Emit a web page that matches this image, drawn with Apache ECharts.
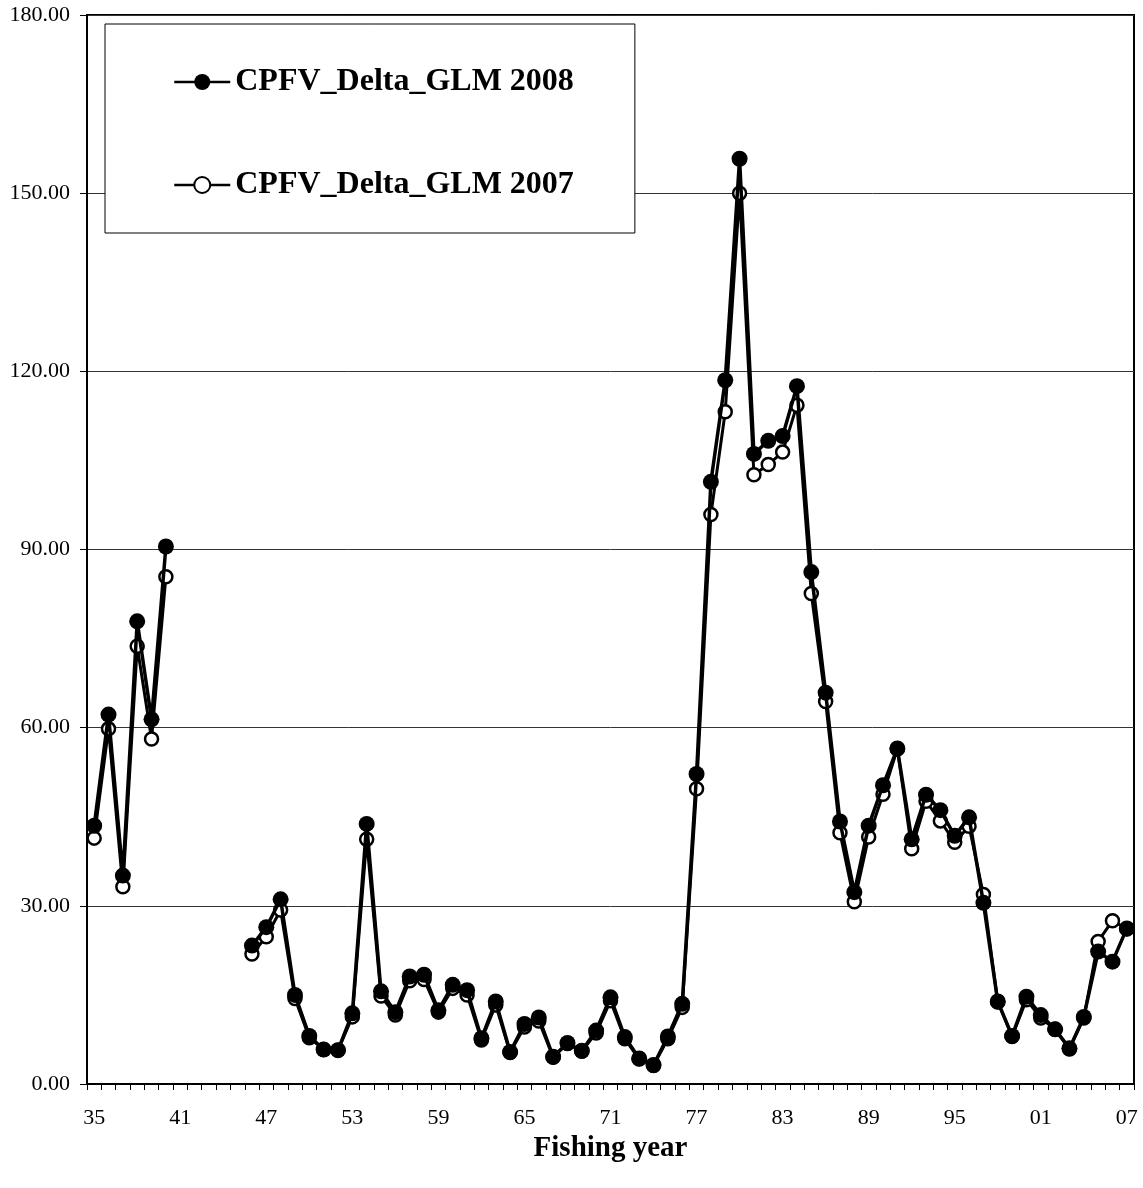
<!DOCTYPE html>
<html>
<head>
<meta charset="utf-8">
<script src="https://cdn.jsdelivr.net/npm/echarts@6/dist/echarts.min.js"></script>
<style>
  html, body { margin: 0; padding: 0; background: #fff; }
  #chart { width: 1143px; height: 1188px; }
</style>
</head>
<body>
<div id="chart"></div>
<script>
// Fishing years 1935..2007
const years = [];
for (let y = 1935; y <= 2007; y++) years.push(y);

const seriesNames = ['CPFV_Delta_GLM 2008', 'CPFV_Delta_GLM 2007'];

// CPFV_Delta_GLM 2008 (filled markers)
const glm2008 = [
  43.5, 62.2, 35.1, 77.9, 61.4, 90.5,            // 1935-1940
  null, null, null, null, null,                  // 1941-1945
  23.3, 26.4, 31.1, 15.0, 8.1, 5.8, 5.7, 11.9, 43.8, // 1946-1954
  15.6, 12.1, 18.1, 18.4, 12.4, 16.7, 15.8, 7.7, 13.9, 5.4, // 1955-1964
  10.1, 11.2, 4.6, 6.9, 5.6, 9.0, 14.6, 7.9, 4.3, 3.2,      // 1965-1974
  8.0, 13.5, 52.2, 101.4, 118.5, 155.8, 106.1, 108.3, 109.1, 117.5, // 1975-1984
  86.2, 65.9, 44.2, 32.3, 43.5, 50.3, 56.5, 41.2, 48.7, 46.1, // 1985-1994
  41.8, 44.9, 30.5, 13.9, 8.1, 14.7, 11.6, 9.2, 6.0, 11.3,    // 1995-2004
  22.3, 20.6, 26.2                                           // 2005-2007
];

// CPFV_Delta_GLM 2007 (open markers)
const glm2007 = [
  41.4, 59.8, 33.2, 73.7, 58.1, 85.4,
  null, null, null, null, null,
  21.9, 24.8, 29.3, 14.4, 7.8, 5.8, 5.7, 11.3, 41.2,
  14.8, 11.6, 17.4, 17.6, 12.1, 16.1, 15.0, 7.4, 13.3, 5.3,
  9.6, 10.6, 4.5, 6.8, 5.5, 8.6, 14.0, 7.6, 4.2, 3.1,
  7.6, 12.9, 49.7, 95.9, 113.2, 150.0, 102.6, 104.3, 106.4, 114.3,
  82.6, 64.4, 42.3, 30.7, 41.6, 48.8, 56.4, 39.6, 47.6, 44.3,
  40.7, 43.4, 31.9, 13.8, 8.0, 14.2, 11.1, 9.2, 5.9, 11.1,
  24.0, 27.5, 26.1
];

const yTicks = [0, 30, 60, 90, 120, 150, 180];

const chart = echarts.init(document.getElementById('chart'), null, { renderer: 'canvas' });
const serif = '"Liberation Serif", "Times New Roman", serif';

chart.setOption({
  animation: false,
  backgroundColor: '#fff',
  grid: {
    left: 87, right: 9, top: 15, bottom: 104,
    show: true, borderColor: '#000', borderWidth: 2, backgroundColor: 'transparent'
  },
  legend: {
    orient: 'vertical',
    left: 105, top: 24,
    padding: [39, 61, 29, 68],
    itemGap: 65,
    itemWidth: 56, itemHeight: 20,
    backgroundColor: '#fff',
    borderColor: '#000', borderWidth: 1,
    data: seriesNames,
    lineStyle: { width: 2.5 },
    textStyle: { fontFamily: serif, fontWeight: 'bold', fontSize: 32, color: '#000', lineHeight: 38 }
  },
  xAxis: {
    type: 'category',
    data: years.map(String),
    boundaryGap: true,
    axisLine: { lineStyle: { color: '#000', width: 2 } },
    axisTick: { show: true, interval: 0, length: 6, lineStyle: { color: '#000', width: 1 } },
    axisLabel: {
      interval: 5, margin: 23,
      fontFamily: serif, fontSize: 22, color: '#000',
      formatter: v => v.slice(2)
    },
    splitLine: { show: false },
    name: 'Fishing year',
    nameLocation: 'middle',
    nameGap: 41,
    nameTextStyle: { fontFamily: serif, fontWeight: 'bold', fontSize: 29, color: '#000' }
  },
  yAxis: {
    type: 'value',
    min: yTicks[0], max: yTicks[yTicks.length - 1], interval: 30,
    axisLine: { show: true, lineStyle: { color: '#000', width: 2 } },
    axisTick: { show: true, length: 7, lineStyle: { color: '#000', width: 1 } },
    axisLabel: {
      margin: 17, fontFamily: serif, fontSize: 22, color: '#000',
      formatter: v => v.toFixed(2)
    },
    splitLine: { show: true, lineStyle: { color: '#333', width: 1 } }
  },
  series: [
    {
      name: seriesNames[0],
      type: 'line',
      data: glm2008,
      z: 4,
      symbol: 'circle', symbolSize: 16,
      showAllSymbol: true,
      connectNulls: false,
      itemStyle: { color: '#000' },
      lineStyle: { color: '#000', width: 3.5 }
    },
    {
      name: seriesNames[1],
      type: 'line',
      data: glm2007,
      z: 3,
      symbol: 'circle', symbolSize: 13,
      showAllSymbol: true,
      connectNulls: false,
      itemStyle: { color: '#fff', borderColor: '#000', borderWidth: 2.5 },
      lineStyle: { color: '#000', width: 3 }
    }
  ]
});
</script>
</body>
</html>
